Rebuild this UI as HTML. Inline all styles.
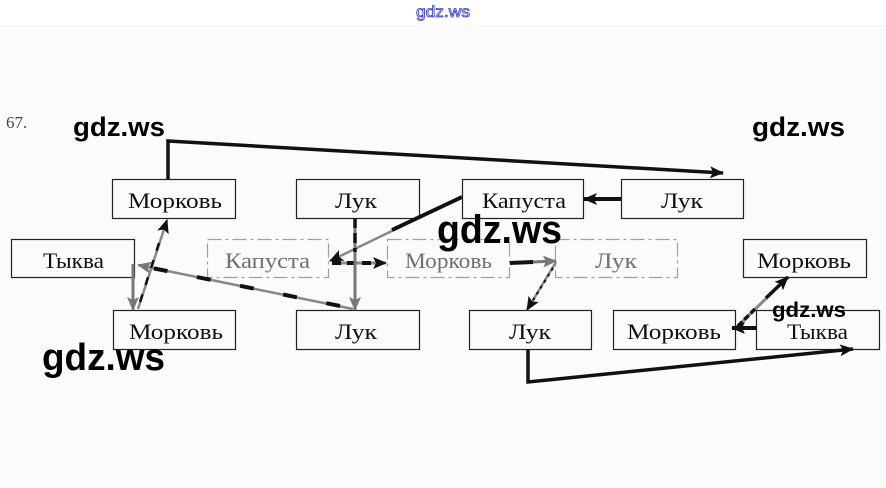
<!DOCTYPE html>
<html>
<head>
<meta charset="utf-8">
<style>
  html,body{margin:0;padding:0;}
  body{width:886px;height:488px;overflow:hidden;background:#fbfbfb;}
  svg{display:block;}
</style>
</head>
<body>
<svg width="886" height="488" viewBox="0 0 886 488" xmlns="http://www.w3.org/2000/svg">
  <defs>
    <marker id="ab" markerUnits="userSpaceOnUse" markerWidth="14" markerHeight="12" refX="13" refY="6" orient="auto">
      <path d="M0,0 L14,6 L0,12 L3,6 z" fill="#111"/>
    </marker>
    <marker id="ag" markerUnits="userSpaceOnUse" markerWidth="14" markerHeight="12" refX="13" refY="6" orient="auto">
      <path d="M0,0 L14,6 L0,12 L3,6 z" fill="#777"/>
    </marker>
  </defs>

  <rect x="0" y="0" width="886" height="25" fill="#ffffff"/>
  <rect x="0" y="25" width="886" height="463" fill="#fbfbfb"/>

  <!-- top watermark -->
  <text x="416" y="17" font-family="Liberation Sans, sans-serif" font-size="16" fill="#ffffff" stroke="#3a3ad0" stroke-width="0.8" textLength="54" lengthAdjust="spacingAndGlyphs">gdz.ws</text>

  <text x="6" y="128" font-family="Liberation Serif, serif" font-size="17" fill="#444">67.</text>

  <!-- boxes -->
  <g fill="none" stroke="#222" stroke-width="1.2">
    <rect x="112.5" y="179.5" width="123" height="39"/>
    <rect x="296.5" y="179.5" width="123" height="39"/>
    <rect x="462.5" y="179.5" width="121" height="39"/>
    <rect x="621.5" y="179.5" width="122" height="39"/>
    <rect x="11.5" y="239.5" width="123" height="38"/>
    <rect x="743.5" y="239.5" width="123" height="38"/>
    <rect x="113.5" y="310.5" width="122" height="39"/>
    <rect x="296.5" y="310.5" width="123" height="39"/>
    <rect x="469.5" y="310.5" width="122" height="39"/>
    <rect x="613.5" y="310.5" width="122" height="39"/>
    <rect x="756.5" y="310.5" width="123" height="39"/>
  </g>
  <g fill="none" stroke="#a0a0a0" stroke-width="1.2" stroke-dasharray="14 4 3 4">
    <rect x="207.5" y="239.5" width="121" height="38"/>
    <rect x="387.5" y="239.5" width="122" height="38"/>
    <rect x="555.5" y="239.5" width="122" height="38"/>
  </g>

  <!-- box labels -->
  <g font-family="Liberation Serif, serif" font-size="22" fill="#111">
    <text x="128" y="208" textLength="94" lengthAdjust="spacingAndGlyphs">Морковь</text>
    <text x="335" y="208" textLength="42" lengthAdjust="spacingAndGlyphs">Лук</text>
    <text x="482" y="208" textLength="84" lengthAdjust="spacingAndGlyphs">Капуста</text>
    <text x="661" y="208" textLength="42" lengthAdjust="spacingAndGlyphs">Лук</text>
    <text x="43" y="268" textLength="61" lengthAdjust="spacingAndGlyphs">Тыква</text>
    <text x="757" y="268" textLength="94" lengthAdjust="spacingAndGlyphs">Морковь</text>
    <text x="129" y="339" textLength="94" lengthAdjust="spacingAndGlyphs">Морковь</text>
    <text x="335" y="339" textLength="42" lengthAdjust="spacingAndGlyphs">Лук</text>
    <text x="509" y="339" textLength="42" lengthAdjust="spacingAndGlyphs">Лук</text>
    <text x="627" y="339" textLength="94" lengthAdjust="spacingAndGlyphs">Морковь</text>
    <text x="787" y="339" textLength="61" lengthAdjust="spacingAndGlyphs">Тыква</text>
  </g>
  <g font-family="Liberation Serif, serif" font-size="22" fill="#707070">
    <text x="225" y="268" textLength="85" lengthAdjust="spacingAndGlyphs">Капуста</text>
    <text x="405" y="268" textLength="87" lengthAdjust="spacingAndGlyphs">Морковь</text>
    <text x="595" y="268" textLength="42" lengthAdjust="spacingAndGlyphs">Лук</text>
  </g>

  <!-- connectors -->
  <polyline points="168,179 168,141 723,173" fill="none" stroke="#111" stroke-width="3.5" marker-end="url(#ab)"/>
  <line x1="621" y1="199" x2="584" y2="199" stroke="#111" stroke-width="4" marker-end="url(#ab)"/>
  <line x1="462" y1="197" x2="330" y2="261" stroke="#888" stroke-width="2.5" marker-end="url(#ab)"/>
  <line x1="462" y1="197" x2="392" y2="230" stroke="#111" stroke-width="4"/>
  <line x1="332" y1="263" x2="386" y2="263" stroke="#888" stroke-width="3" marker-end="url(#ab)"/>
  <line x1="332" y1="263" x2="372" y2="263" stroke="#111" stroke-width="4" stroke-dasharray="9 6"/>
  <line x1="355" y1="218" x2="355" y2="310" stroke="#777" stroke-width="3" marker-end="url(#ag)"/>
  <line x1="355" y1="218" x2="355" y2="252" stroke="#111" stroke-width="3.5" stroke-dasharray="10 5"/>
  <line x1="353" y1="309" x2="138" y2="265" stroke="#888" stroke-width="2.5" marker-end="url(#ag)"/>
  <line x1="340" y1="306" x2="152" y2="268" stroke="#111" stroke-width="4" stroke-dasharray="14 30"/>
  <line x1="133" y1="264" x2="133" y2="310" stroke="#777" stroke-width="3" marker-end="url(#ag)"/>
  <line x1="138" y1="309" x2="167" y2="220" stroke="#888" stroke-width="2.5" marker-end="url(#ab)"/>
  <line x1="140" y1="302" x2="160" y2="240" stroke="#111" stroke-width="2.5" stroke-dasharray="8 10"/>
  <line x1="510" y1="263" x2="556" y2="261" stroke="#777" stroke-width="3" marker-end="url(#ag)"/>
  <line x1="510" y1="263" x2="533" y2="262" stroke="#111" stroke-width="4"/>
  <line x1="556" y1="262" x2="527" y2="310" stroke="#888" stroke-width="2.5" marker-end="url(#ab)"/>
  <line x1="553" y1="268" x2="532" y2="302" stroke="#111" stroke-width="2" stroke-dasharray="3 4"/>
  <polyline points="528,349 528,382 853,349" fill="none" stroke="#111" stroke-width="3.5" marker-end="url(#ab)"/>
  <line x1="756" y1="328" x2="732" y2="328" stroke="#111" stroke-width="4" marker-end="url(#ab)"/>
  <line x1="738" y1="326" x2="788" y2="277" stroke="#888" stroke-width="3" marker-end="url(#ab)"/>
  <line x1="738" y1="326" x2="756" y2="308" stroke="#111" stroke-width="3.5" stroke-dasharray="6 3"/>
  <line x1="766" y1="298" x2="788" y2="277" stroke="#111" stroke-width="3.5"/>

  <!-- watermarks -->
  <g font-family="Liberation Sans, sans-serif" font-weight="bold" fill="#000">
    <text x="73" y="136" font-size="27" textLength="92" lengthAdjust="spacingAndGlyphs">gdz.ws</text>
    <text x="752" y="136" font-size="27" textLength="93" lengthAdjust="spacingAndGlyphs">gdz.ws</text>
    <text x="437" y="243" font-size="40" textLength="125" lengthAdjust="spacingAndGlyphs">gdz.ws</text>
    <text x="42" y="370" font-size="38" textLength="123" lengthAdjust="spacingAndGlyphs">gdz.ws</text>
    <text x="772" y="317" font-size="21" textLength="74" lengthAdjust="spacingAndGlyphs">gdz.ws</text>
  </g>
</svg>
</body>
</html>
